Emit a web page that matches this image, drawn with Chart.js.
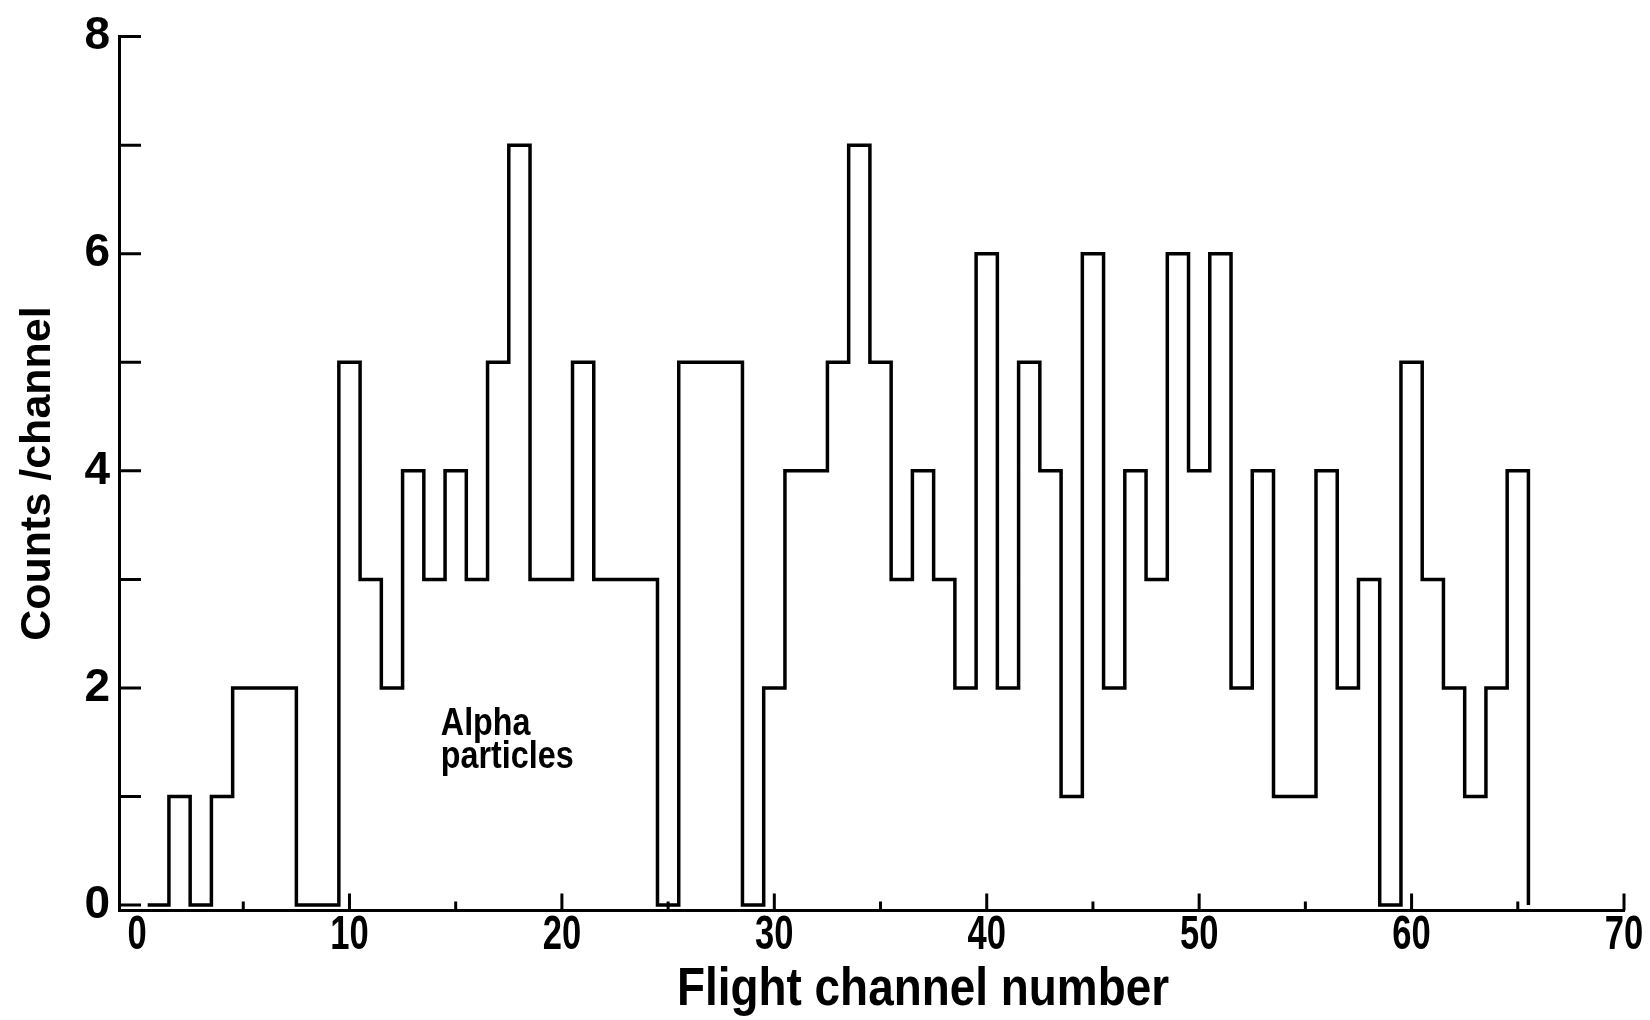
<!DOCTYPE html>
<html>
<head>
<meta charset="utf-8">
<script src="https://cdn.jsdelivr.net/npm/chart.js@4.4.1/dist/chart.umd.min.js"></script>
<style>
  html, body { margin: 0; padding: 0; background: #fff; }
  #wrap { width: 1650px; height: 1020px; }
</style>
</head>
<body>
<div id="wrap"><canvas id="histChart" width="1650" height="1020"></canvas></div>
<script>
// Zählungen pro Flugkanal
const channels = [1, 2, 3, 4, 5, 6, 7, 8, 9, 10, 11, 12, 13, 14, 15, 16, 17, 18, 19, 20,
    21, 22, 23, 24, 25, 26, 27, 28, 29, 30, 31, 32, 33, 34, 35, 36, 37, 38, 39, 40,
    41, 42, 43, 44, 45, 46, 47, 48, 49, 50, 51, 52, 53, 54, 55, 56, 57, 58, 59, 60,
    61, 62, 63, 64, 65];
const counts = [0, 1, 0, 1, 2, 2, 2, 0, 0, 5, 3, 2, 4, 3, 4, 3, 5, 7, 3, 3,
    5, 3, 3, 3, 0, 5, 5, 5, 0, 2, 4, 4, 5, 7, 5, 3, 4, 3, 2, 6,
    2, 5, 4, 1, 6, 2, 4, 3, 6, 4, 6, 2, 4, 1, 1, 4, 2, 3, 0, 5,
    3, 2, 1, 2, 4];

const xLabelTicks = [0, 10, 20, 30, 40, 50, 60, 70];
const xMarkTicks = [5, 10, 15, 20, 25, 30, 35, 40, 45, 50, 55, 60, 65, 70];
const yLabelTicks = [0, 2, 4, 6, 8];
const yMarkTicks = [0, 1, 2, 3, 4, 5, 6, 7, 8];

const xTitle = 'Flight channel number';
const yTitle = 'Counts /channel';
const noteLines = ['Alpha', 'particles'];

const plain = "'Liberation Sans', Arial, sans-serif";

// schmale (gestauchte) Schrift für die Beschriftung wie im Original
function narrowText(ctx, text, px, py, squeeze) {
    ctx.save();
    ctx.translate(px, py);
    ctx.scale(squeeze, 1);
    ctx.fillText(text, 0, 0);
    ctx.restore();
}

document.addEventListener("DOMContentLoaded", function () {
    // Kanten der Bins: jeder Kanal ist um seine Nummer zentriert
    const points = channels.map((ch, i) => ({ x: ch - 0.5, y: counts[i] }));
    points.push({ x: channels[channels.length - 1] + 0.5, y: 0 });

    // Tickstriche nach innen, x-Beschriftung und Notiz
    const extras = {
        id: 'extras',
        afterDatasetsDraw(chart) {
            const { ctx, scales: { x, y } } = chart;
            ctx.save();
            ctx.strokeStyle = '#000';
            ctx.lineWidth = 3;
            ctx.beginPath();
            yMarkTicks.forEach(v => {
                const py = y.getPixelForValue(v);
                ctx.moveTo(x.left, py);
                ctx.lineTo(x.left + 22, py);
            });
            xMarkTicks.forEach(v => {
                const px = x.getPixelForValue(v);
                const len = v % 10 === 0 ? 17 : 9;
                ctx.moveTo(px, y.bottom);
                ctx.lineTo(px, y.bottom - len);
            });
            ctx.stroke();

            ctx.fillStyle = '#000';
            ctx.textBaseline = 'alphabetic';

            // x-Achsenbeschriftung
            ctx.textAlign = 'center';
            ctx.font = "bold 48px " + plain;
            xLabelTicks.forEach(v => {
                narrowText(ctx, String(v), x.getPixelForValue(v), y.bottom + 38, 0.72);
            });

            ctx.font = "bold 54px " + plain;
            narrowText(ctx, xTitle, x.getPixelForValue(37), 1005, 0.85);

            ctx.textAlign = 'left';
            ctx.font = "bold 38px " + plain;
            narrowText(ctx, noteLines[0], x.getPixelForValue(14.3), y.getPixelForValue(1.57), 0.85);
            narrowText(ctx, noteLines[1], x.getPixelForValue(14.3), y.getPixelForValue(1.26), 0.85);
            ctx.restore();
        }
    };

    const ctx = document.getElementById('histChart').getContext('2d');
    new Chart(ctx, {
        type: 'line',
        data: {
            datasets: [{
                data: points,
                stepped: 'before',
                borderColor: '#000',
                borderWidth: 3.5,
                borderJoinStyle: 'miter',
                borderCapStyle: 'butt',
                pointRadius: 0,
                fill: false
            }]
        },
        options: {
            responsive: false,
            devicePixelRatio: 1,
            animation: false,
            layout: { padding: { top: 26, right: 26, bottom: 0, left: 0 } },
            plugins: {
                legend: { display: false },
                tooltip: { enabled: false }
            },
            scales: {
                x: {
                    type: 'linear',
                    min: -0.85,
                    max: 70,
                    afterBuildTicks: s => { s.ticks = xLabelTicks.map(v => ({ value: v })); },
                    afterFit: s => { s.height = 109.5; },
                    grid: { display: false, drawTicks: false },
                    border: { display: true, color: '#000', width: 3 },
                    ticks: { display: false }
                },
                y: {
                    min: -0.05,
                    max: 8,
                    afterBuildTicks: s => { s.ticks = yLabelTicks.map(v => ({ value: v })); },
                    afterFit: s => { s.width = 119; },
                    grid: { display: false, drawTicks: false },
                    border: { display: true, color: '#000', width: 3 },
                    ticks: {
                        padding: 9,
                        color: '#000',
                        font: { family: plain, size: 46, weight: 'bold' }
                    },
                    title: {
                        display: true,
                        text: yTitle,
                        color: '#000',
                        padding: { top: 12, bottom: 0 },
                        font: { family: plain, size: 43, weight: 'bold' }
                    }
                }
            }
        },
        plugins: [extras]
    });
});
</script>
</body>
</html>
